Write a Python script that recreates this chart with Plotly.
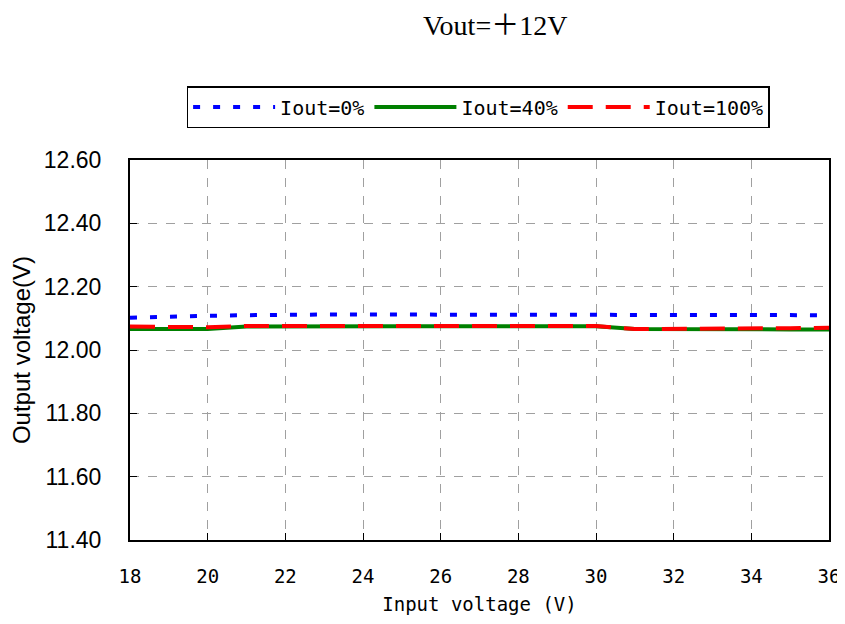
import plotly.graph_objects as go

vin = [18, 19, 20, 21, 22, 23, 24, 25, 26, 27, 28, 29, 30, 31, 32, 33, 34, 35, 36]
iout0 = [12.102, 12.106, 12.108, 12.110, 12.112, 12.112, 12.112, 12.112, 12.112, 12.112, 12.112, 12.112, 12.112, 12.110, 12.110, 12.110, 12.110, 12.110, 12.110]
iout40 = [12.066, 12.066, 12.066, 12.074, 12.075, 12.075, 12.075, 12.075, 12.075, 12.075, 12.075, 12.075, 12.075, 12.066, 12.065, 12.065, 12.065, 12.065, 12.065]
iout100 = [12.074, 12.072, 12.072, 12.076, 12.075, 12.076, 12.076, 12.076, 12.076, 12.076, 12.076, 12.076, 12.076, 12.066, 12.066, 12.068, 12.068, 12.069, 12.070]
names = ["Iout=0%", "Iout=40%", "Iout=100%"]

gothic = "DejaVu Sans Mono, monospace"
sans = "Liberation Sans, Arial, sans-serif"

fig = go.Figure()
fig.add_trace(go.Scatter(x=vin, y=iout0, mode="lines", name=names[0],
                         line=dict(color="#0000ff", width=4, dash="7px,13px")))
fig.add_trace(go.Scatter(x=vin, y=iout40, mode="lines", name=names[1],
                         line=dict(color="#008000", width=4)))
fig.add_trace(go.Scatter(x=vin, y=iout100, mode="lines", name=names[2],
                         line=dict(color="#ff0000", width=4, dash="25px,13px")))

fig.update_layout(
    width=837, height=616,
    paper_bgcolor="white", plot_bgcolor="white",
    margin=dict(l=122, r=16, t=152, b=84),
    showlegend=True,
    legend=dict(orientation="h", x=0.498, xanchor="center", y=1.084, yanchor="bottom",
                bordercolor="black", borderwidth=1.5, bgcolor="white",
                font=dict(family=gothic, size=20, color="black"),
                itemwidth=82, tracegroupgap=0),
    annotations=[dict(text="Vout=＋12V", x=(495 - 130) / 699, xref="paper",
                      y=1.0 + (160 - 25) / 380, yref="paper",
                      xanchor="center", yanchor="middle", showarrow=False,
                      font=dict(family="Liberation Serif, Noto Sans CJK JP, serif", size=28, color="black"))],
)

fig.update_xaxes(range=[18, 36], tickvals=list(range(18, 37, 2)),
                 automargin=False,
                 showline=True, linecolor="black", linewidth=2, mirror=True,
                 showgrid=True, gridcolor="#a0a0a0", griddash="dash", gridwidth=1,
                 ticks="inside", ticklen=7, tickcolor="black",
                 ticklabelstandoff=18,
                 tickfont=dict(family=gothic, size=19, color="black"),
                 title=dict(text="Input voltage (V)", standoff=12,
                            font=dict(family=gothic, size=19, color="black")),
                 zeroline=False)
fig.update_yaxes(range=[11.40, 12.60], tickvals=[11.4, 11.6, 11.8, 12.0, 12.2, 12.4, 12.6],
                 tickformat=".2f", automargin=False,
                 showline=True, linecolor="black", linewidth=2, mirror=True,
                 showgrid=True, gridcolor="#a0a0a0", griddash="dash", gridwidth=1,
                 ticks="inside", ticklen=7, tickcolor="black",
                 ticklabelstandoff=22,
                 tickfont=dict(family=sans, size=23, color="black"),
                 title=dict(text="Output voltage(V)", standoff=14,
                            font=dict(family=sans, size=24, color="black")),
                 zeroline=False)

fig.write_html("out.html")
